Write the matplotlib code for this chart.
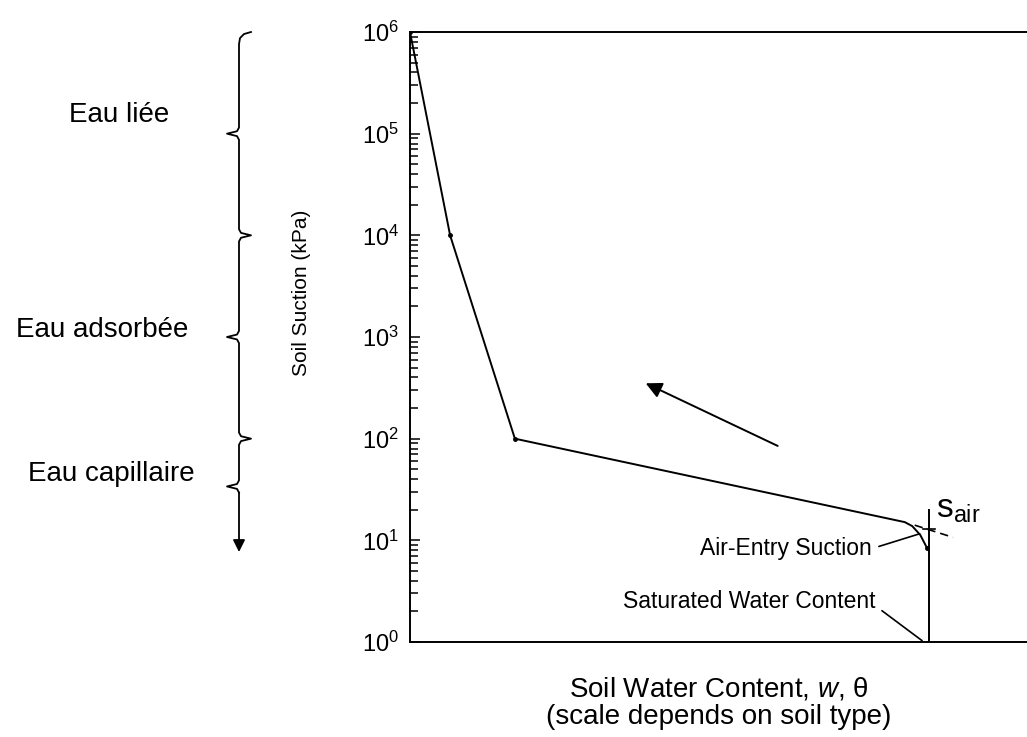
import matplotlib
matplotlib.use('Agg')
import matplotlib.pyplot as plt
import matplotlib.transforms as mtransforms
import numpy as np

plt.rcParams['font.family'] = ['Liberation Sans', 'DejaVu Sans']
plt.rcParams['mathtext.fontset'] = 'custom'
plt.rcParams['mathtext.rm'] = 'Liberation Sans'
plt.rcParams['mathtext.it'] = 'Liberation Sans:italic'

# courbe de rétention
water_content = [0, 6.5, 17.0, 80.2, 81.4, 82.7, 83.8]
suction = [1e6, 1e4, 1e2, 15.1, 13.8, 11.3, 8.4]

# teneur en eau saturée + succion d'entrée d'air
w_sat = 84.1
sat_line = [1, 19.9]
s_air = 12.9
tangent_w = [81.8, 88.0]
tangent_s = [14.1, 10.7]

# flèche (séchage)
arrow_from = (60.0, 82.6)
arrow_to = (37.8, 360)

# accolades : (log10 succion, sens de la pointe)
brace_top = 6.0
brace_cusps = [(5.0, -1), (4.0, 1), (3.0, -1), (2.0, 1), (1.53, -1)]
brace_end = 0.885
zones = ['Eau liée', 'Eau adsorbée', 'Eau capillaire']
zone_pos = [(-0.472, 5.18), (-0.499, 3.07), (-0.484, 1.65)]

fig = plt.figure(figsize=(10.27, 7.37), dpi=100)
ax = fig.add_axes([410 / 1027, 95 / 737, 617 / 1027, 610 / 737])
ax.set_yscale('log')
ax.set_ylim(1, 1e6)
ax.set_xlim(0, 100)

ax.plot(water_content, suction, color='black', lw=1.4, zorder=3)
ax.plot([water_content[i] for i in (0, 1, 2, 6)], [suction[i] for i in (0, 1, 2, 6)],
        ls='none', marker='o', ms=2.5, color='black', zorder=4)
ax.plot([w_sat, w_sat], sat_line, color='black', lw=1.4)
ax.plot([w_sat - 1.0, w_sat + 1.0], [s_air, s_air], color='black', lw=1.2)
ax.plot(tangent_w, tangent_s, color='black', lw=1.2, ls=(0, (5, 3)))

ax.annotate('', xy=arrow_to, xytext=arrow_from,
            arrowprops=dict(arrowstyle='-|>', color='black', lw=1.4, mutation_scale=24))

ax.annotate('Air-Entry Suction', xy=(82.6, 11.6), xytext=(74.9, 8.3),
            ha='right', va='center', fontsize=16.5,
            arrowprops=dict(arrowstyle='-', color='black', lw=1.2, shrinkA=3, shrinkB=0,
                            relpos=(1, 0.5)))
ax.annotate('Saturated Water Content', xy=(83.0, 1.03), xytext=(75.5, 2.5),
            ha='right', va='center', fontsize=16.5,
            arrowprops=dict(arrowstyle='-', color='black', lw=1.2, shrinkA=3, shrinkB=0,
                            relpos=(1, 0.3)))
ax.text(85.2, 20, r'$\mathregular{s_{air}}$', fontsize=24, ha='left', va='center')

ax.spines['right'].set_visible(False)
for side in ('left', 'top', 'bottom'):
    ax.spines[side].set_linewidth(1.4)

ax.yaxis.set_major_locator(matplotlib.ticker.LogLocator(base=10, numticks=10))
ax.yaxis.set_minor_locator(matplotlib.ticker.LogLocator(base=10, subs=np.arange(2, 10), numticks=10))
ax.yaxis.set_minor_formatter(matplotlib.ticker.NullFormatter())
ax.tick_params(axis='y', which='both', direction='in', width=1.1, labelsize=17, pad=8)
ax.tick_params(axis='y', which='major', length=7)
ax.tick_params(axis='y', which='minor', length=6)
ax.set_xticks([])

ax.set_ylabel('Soil Suction (kPa)', fontsize=15)
ax.yaxis.set_label_coords(-0.16, 0.572)
ax.set_xlabel('Soil Water Content, $\\mathit{w}$, θ\n(scale depends on soil type)', fontsize=20,
              linespacing=1.1, labelpad=24)

# accolades à gauche (x en fraction d'axe, y en données)
trans = mtransforms.blended_transform_factory(ax.transAxes, ax.transData)
bx = (239 - 410) / 617
px = 1 / 617
d = 0.06
xs = [bx + 12 * px, bx + 5 * px, bx + 1 * px, bx]
ys = [brace_top, brace_top - 0.02, brace_top - 0.06, brace_top - 0.12]
for yc, sgn in brace_cusps:
    xs += [bx, bx + sgn * 2 * px, bx + sgn * 12 * px, bx + sgn * 2 * px, bx]
    ys += [yc + d, yc + 0.4 * d, yc, yc - 0.4 * d, yc - d]
ax.plot(xs, [10 ** v for v in ys], color='black', lw=1.3, transform=trans, clip_on=False)
ax.annotate('', xy=(bx, 10 ** brace_end), xytext=(bx, 10 ** (brace_cusps[-1][0] - d)),
            xycoords=trans, textcoords=trans,
            arrowprops=dict(arrowstyle='-|>', color='black', lw=1.3, mutation_scale=18,
                            shrinkA=0, shrinkB=0))

for label, (tx, ty) in zip(zones, zone_pos):
    ax.text(tx, 10 ** ty, label, fontsize=20, ha='center', va='center', transform=trans)

plt.savefig('out.png', dpi=100)
